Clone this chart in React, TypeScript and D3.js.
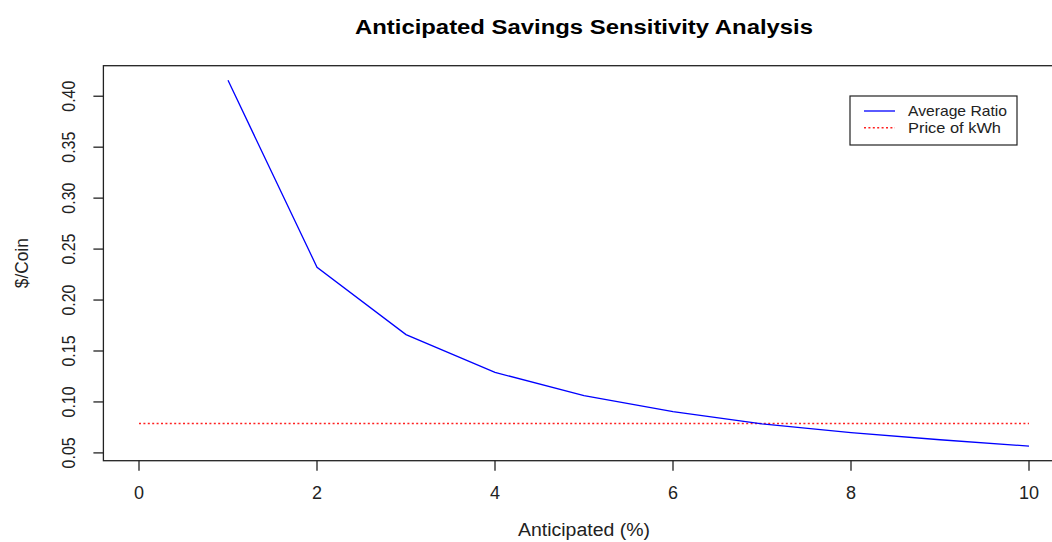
import React from "react";
import * as d3 from "d3";

const anticipated = [1, 2, 3, 4, 5, 6, 7, 8, 9, 10];
const averageRatio = [0.4156, 0.2322, 0.1661, 0.129, 0.1062, 0.0904, 0.0785, 0.0698, 0.0629, 0.0567];
const priceX = [0, 10];
const priceOfKwh = [0.0789, 0.0789];
const xTicks = [0, 2, 4, 6, 8, 10];
const yTicks = [0.05, 0.1, 0.15, 0.2, 0.25, 0.3, 0.35, 0.4];
const legendLabels = ["Average Ratio", "Price of kWh"];

const W = 1052;
const H = 542;
const left = 103.4;
const right = 1064.6;
const top = 65.7;
const bottom = 460.7;

function expand(ext: [number, number]): [number, number] {
  const r = ext[1] - ext[0];
  return [ext[0] - 0.04 * r, ext[1] + 0.04 * r];
}

export default function App() {
  const allX = [...anticipated, ...priceX];
  const allY = [...averageRatio, ...priceOfKwh];
  const x = d3.scaleLinear().domain(expand(d3.extent(allX) as [number, number])).range([left, right]);
  const y = d3.scaleLinear().domain(expand(d3.extent(allY) as [number, number])).range([bottom, top]);

  const line = d3
    .line<[number, number]>()
    .x((d) => x(d[0]))
    .y((d) => y(d[1]));

  const ratioPts = anticipated.map((v, i) => [v, averageRatio[i]] as [number, number]);
  const pricePts = priceX.map((v, i) => [v, priceOfKwh[i]] as [number, number]);

  const font = "'Liberation Sans', Arial, sans-serif";
  const cx = (left + right) / 2;
  const cy = (top + bottom) / 2;

  return (
    <svg
      width={W}
      height={H}
      style={{ position: "absolute", left: 0, top: 0, background: "#fff" }}
      fontFamily={font}
    >
      <rect x={0} y={0} width={W} height={H} fill="#fff" />
      <text x={cx} y={34} textAnchor="middle" fontSize={19.5} fontWeight="bold" textLength={458} lengthAdjust="spacingAndGlyphs" fill="#000">
        Anticipated Savings Sensitivity Analysis
      </text>

      {/* data lines */}
      <path d={line(pricePts) || ""} fill="none" stroke="#ff2020" strokeWidth={1.4} strokeDasharray="2,2.4" />
      <path d={line(ratioPts) || ""} fill="none" stroke="#0000ff" strokeWidth={1.3} />

      {/* frame */}
      <rect x={left} y={top} width={right - left} height={bottom - top} fill="none" stroke="#222" strokeWidth={1.3} />

      {/* x axis */}
      {xTicks.map((t) => (
        <g key={"x" + t}>
          <line x1={x(t)} x2={x(t)} y1={bottom} y2={bottom + 10} stroke="#222" strokeWidth={1.3} />
          <text x={x(t)} y={499} textAnchor="middle" fontSize={18} fill="#222">
            {t}
          </text>
        </g>
      ))}
      <text x={cx} y={536} textAnchor="middle" fontSize={18} textLength={132} lengthAdjust="spacingAndGlyphs" fill="#222">
        Anticipated (%)
      </text>

      {/* y axis */}
      {yTicks.map((t) => (
        <g key={"y" + t}>
          <line x1={left} x2={left - 10} y1={y(t)} y2={y(t)} stroke="#222" strokeWidth={1.3} />
          <text
            transform={`translate(75,${y(t)}) rotate(-90)`}
            textAnchor="middle"
            fontSize={18}
            textLength={31}
            lengthAdjust="spacingAndGlyphs"
            fill="#222"
          >
            {t.toFixed(2)}
          </text>
        </g>
      ))}
      <text
        transform={`translate(28,${cy}) rotate(-90)`}
        textAnchor="middle"
        fontSize={18.6}
        textLength={50}
        lengthAdjust="spacingAndGlyphs"
        fill="#222"
      >
        $/Coin
      </text>

      {/* legend */}
      <rect x={850} y={96} width={167} height={49} fill="#fff" stroke="#222" strokeWidth={1.2} />
      <line x1={864} x2={895} y1={111} y2={111} stroke="#0000ff" strokeWidth={1.3} />
      <line x1={864} x2={895} y1={127.7} y2={127.7} stroke="#ff2020" strokeWidth={1.4} strokeDasharray="2,2.4" />
      <text x={908} y={116} fontSize={14.5} textLength={99} lengthAdjust="spacingAndGlyphs" fill="#222">
        {legendLabels[0]}
      </text>
      <text x={908} y={132.5} fontSize={14.5} textLength={93} lengthAdjust="spacingAndGlyphs" fill="#222">
        {legendLabels[1]}
      </text>
    </svg>
  );
}
